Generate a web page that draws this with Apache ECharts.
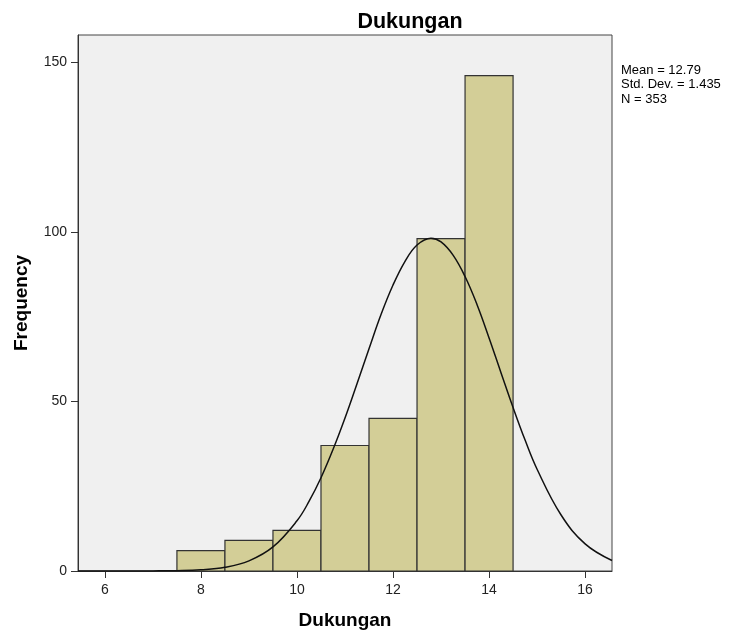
<!DOCTYPE html>
<html><head><meta charset="utf-8">
<script src="https://cdn.jsdelivr.net/npm/echarts@6/dist/echarts.min.js"></script>
<style>html,body{margin:0;padding:0;background:#fff}#c{width:732px;height:635px}</style>
</head><body><div id="c"></div>
<script>
const binStart = [7.5, 8.5, 9.5, 10.5, 11.5, 12.5, 13.5];
const binEnd   = [8.5, 9.5, 10.5, 11.5, 12.5, 13.5, 14.5];
const frequency = [6, 9, 12, 37, 45, 98, 146];
const curveX = [5.44, 6, 6.5, 7, 7.5, 8, 8.5, 9, 9.5, 10, 10.25, 10.5, 10.75, 11, 11.25, 11.5, 11.75, 12, 12.25, 12.5, 12.79, 13, 13.25, 13.5, 13.75, 14, 14.25, 14.5, 14.75, 15, 15.5, 16, 16.56];
const curveY = [0, 0, 0.01, 0.03, 0.11, 0.37, 1.1, 3.0, 7.1, 14.8, 20.5, 27.5, 35.8, 45.1, 55.2, 65.5, 75.6, 84.3, 91.3, 96.1, 98.1, 97.0, 93.1, 86.8, 78.5, 68.7, 58.4, 48.2, 38.6, 30.0, 16.5, 8.0, 3.1];
const xTicks = [6, 8, 10, 12, 14, 16];
const yTicks = [0, 50, 100, 150];
const statsLines = ['Mean = 12.79', 'Std. Dev. = 1.435', 'N = 353'];

const chart = echarts.init(document.getElementById('c'), null, {renderer: 'canvas'});
const font = 'Arial, "Liberation Sans", sans-serif';
chart.setOption({
  animation: false,
  backgroundColor: '#fff',
  title: {
    text: 'Dukungan', left: 405, top: 6, textAlign: 'center',
    textStyle: {fontFamily: font, fontSize: 21.5, fontWeight: 'bold', color: '#000'}
  },
  grid: {left: 78, top: 35, right: 120, bottom: 62.5, show: true,
    backgroundColor: '#f0f0f0', borderColor: '#444', borderWidth: 1},
  xAxis: {
    type: 'value', min: 5.44, max: 16.56,
    name: 'Dukungan', nameLocation: 'middle', nameGap: 40,
    nameTextStyle: {fontFamily: font, fontSize: 19, fontWeight: 'bold', color: '#000'},
    axisLine: {show: true, lineStyle: {color: '#333'}},
    axisTick: {show: true, length: 7, customValues: xTicks, lineStyle: {color: '#333'}},
    axisLabel: {customValues: xTicks, fontFamily: font, fontSize: 14, color: '#222', margin: 12},
    splitLine: {show: false}
  },
  yAxis: {
    type: 'value', min: 0, max: 158,
    name: 'Frequency', nameLocation: 'middle', nameGap: 47, nameRotate: 90,
    nameTextStyle: {fontFamily: font, fontSize: 19, fontWeight: 'bold', color: '#000'},
    axisLine: {show: true, lineStyle: {color: '#333'}},
    axisTick: {show: true, length: 7, customValues: yTicks, lineStyle: {color: '#333'}},
    axisLabel: {customValues: yTicks, fontFamily: font, fontSize: 14, color: '#222', margin: 11},
    splitLine: {show: false}
  },
  graphic: [{
    type: 'text', left: 621, top: 63,
    style: {text: statsLines.join('\n'), font: '13px ' + font, fill: '#000', lineHeight: 14.5}
  }],
  series: [{
    type: 'custom',
    data: frequency.map((f, i) => [binStart[i], binEnd[i], f]),
    encode: {x: [0, 1], y: 2},
    renderItem: function (params, api) {
      const p0 = api.coord([api.value(0), api.value(2)]);
      const p1 = api.coord([api.value(1), 0]);
      return {
        type: 'rect',
        shape: {x: p0[0], y: p0[1], width: p1[0] - p0[0], height: p1[1] - p0[1]},
        style: {fill: '#d3ce97', stroke: '#333', lineWidth: 1.2}
      };
    }
  }, {
    type: 'line',
    data: curveX.map((x, i) => [x, curveY[i]]),
    smooth: 0.4, showSymbol: false, symbol: 'none',
    lineStyle: {color: '#111', width: 1.5}, z: 5
  }]
});
</script></body></html>
